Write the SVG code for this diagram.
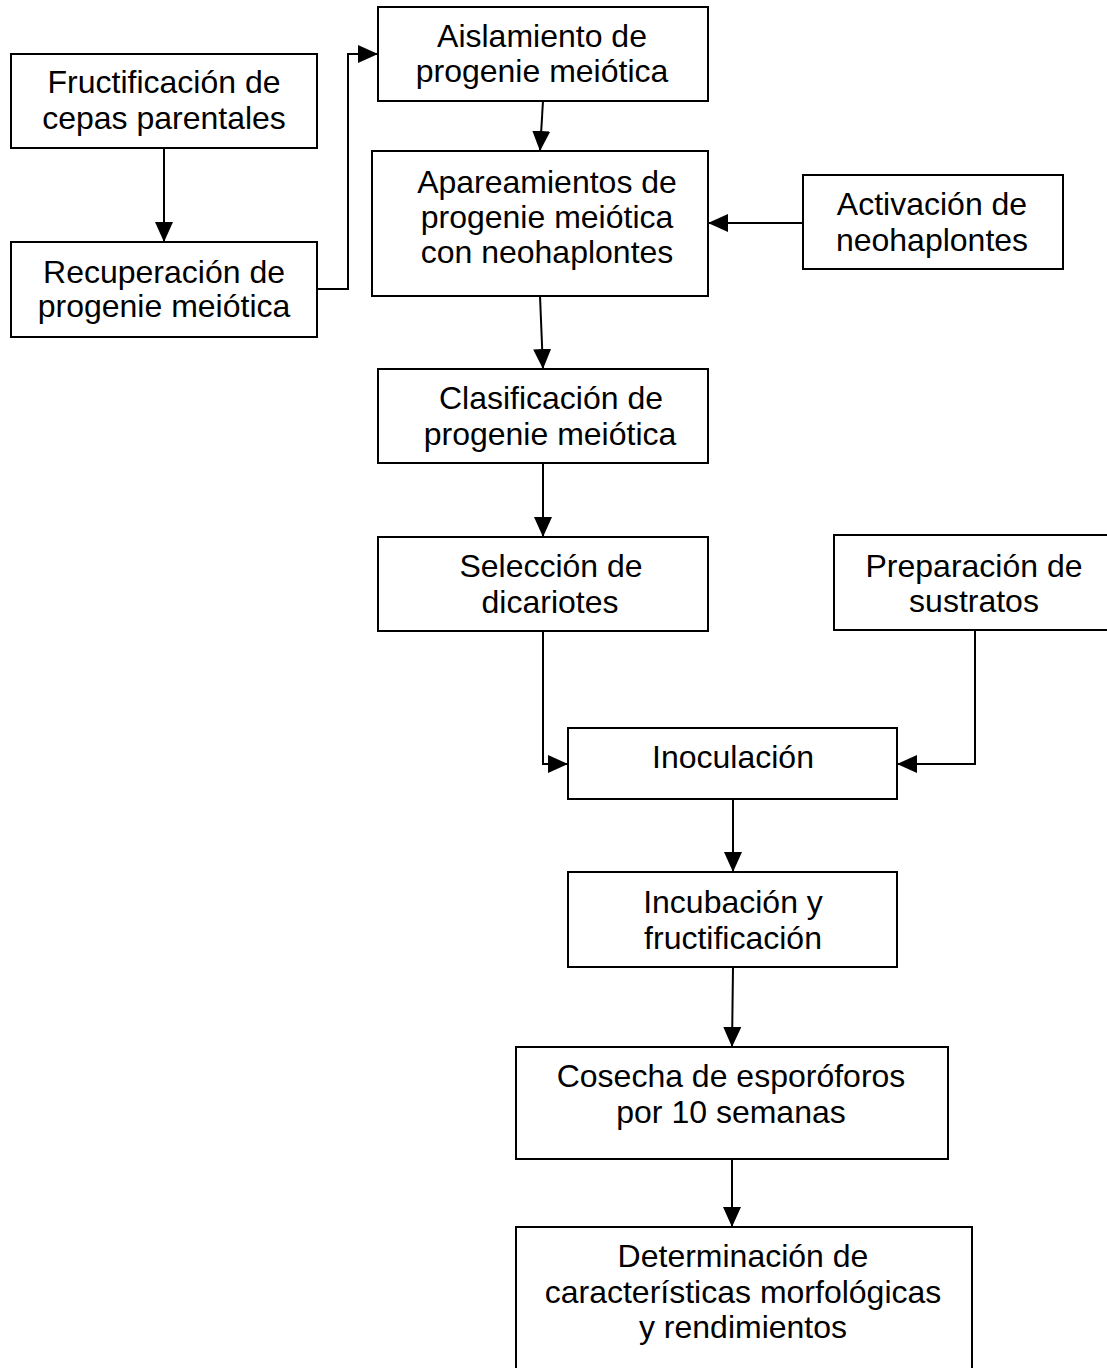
<svg xmlns="http://www.w3.org/2000/svg" width="1107" height="1368" viewBox="0 0 1107 1368">
<style>
rect.box{fill:#fff;stroke:#000;stroke-width:2}
text{font-family:"Liberation Sans",Arial,sans-serif;font-size:32px;fill:#000;text-anchor:middle}
.c{fill:none;stroke:#000;stroke-width:2;marker-end:url(#ah)}
</style>
<defs>
<marker id="ah" markerUnits="userSpaceOnUse" markerWidth="20" markerHeight="18" refX="20" refY="9" orient="auto">
<path d="M0,0 L20,9 L0,18 Z" fill="#000"/>
</marker>
</defs>
<rect width="1107" height="1368" fill="#fff"/>
<g id="connectors">
<path class="c" d="M164,148 L164,242"/>
<path class="c" d="M317,289 L348,289 L348,54 L378,54"/>
<path class="c" d="M543,101 L540,151"/>
<path class="c" d="M803,223 L708,223"/>
<path class="c" d="M540,296 L543,369"/>
<path class="c" d="M543,463 L543,537"/>
<path class="c" d="M543,631 L543,764 L568,764"/>
<path class="c" d="M975,630 L975,764 L897,764"/>
<path class="c" d="M733,799 L733,872"/>
<path class="c" d="M733,967 L732,1047"/>
<path class="c" d="M732,1159 L732,1227"/>
</g>
<g id="n1"><rect class="box" x="11" y="54" width="306" height="94"/><text x="164" y="93">Fructificación de</text><text x="164" y="129">cepas parentales</text></g>
<g id="n2"><rect class="box" x="11" y="242" width="306" height="95"/><text x="164" y="283">Recuperación de</text><text x="164" y="317">progenie meiótica</text></g>
<g id="n3"><rect class="box" x="378" y="7" width="330" height="94"/><text x="542" y="47">Aislamiento de</text><text x="542" y="82">progenie meiótica</text></g>
<g id="n4"><rect class="box" x="372" y="151" width="336" height="145"/><text x="547" y="193">Apareamientos de</text><text x="547" y="228">progenie meiótica</text><text x="547" y="263">con neohaplontes</text></g>
<g id="n5"><rect class="box" x="803" y="175" width="260" height="94"/><text x="932" y="215">Activación de</text><text x="932" y="251">neohaplontes</text></g>
<g id="n6"><rect class="box" x="378" y="369" width="330" height="94"/><text x="551" y="409">Clasificación de</text><text x="550" y="445">progenie meiótica</text></g>
<g id="n7"><rect class="box" x="378" y="537" width="330" height="94"/><text x="551" y="577">Selección de</text><text x="550" y="613">dicariotes</text></g>
<g id="n8"><rect class="box" x="834" y="535" width="290" height="95"/><text x="974" y="577">Preparación de</text><text x="974" y="612">sustratos</text></g>
<g id="n9"><rect class="box" x="568" y="728" width="329" height="71"/><text x="733" y="768">Inoculación</text></g>
<g id="n10"><rect class="box" x="568" y="872" width="329" height="95"/><text x="733" y="913">Incubación y</text><text x="733" y="949">fructificación</text></g>
<g id="n11"><rect class="box" x="516" y="1047" width="432" height="112"/><text x="731" y="1087">Cosecha de esporóforos</text><text x="731" y="1123">por 10 semanas</text></g>
<g id="n12"><rect class="box" x="516" y="1227" width="456" height="160"/><text x="743" y="1267">Determinación de</text><text x="743" y="1303">características morfológicas</text><text x="743" y="1338">y rendimientos</text></g>
</svg>
